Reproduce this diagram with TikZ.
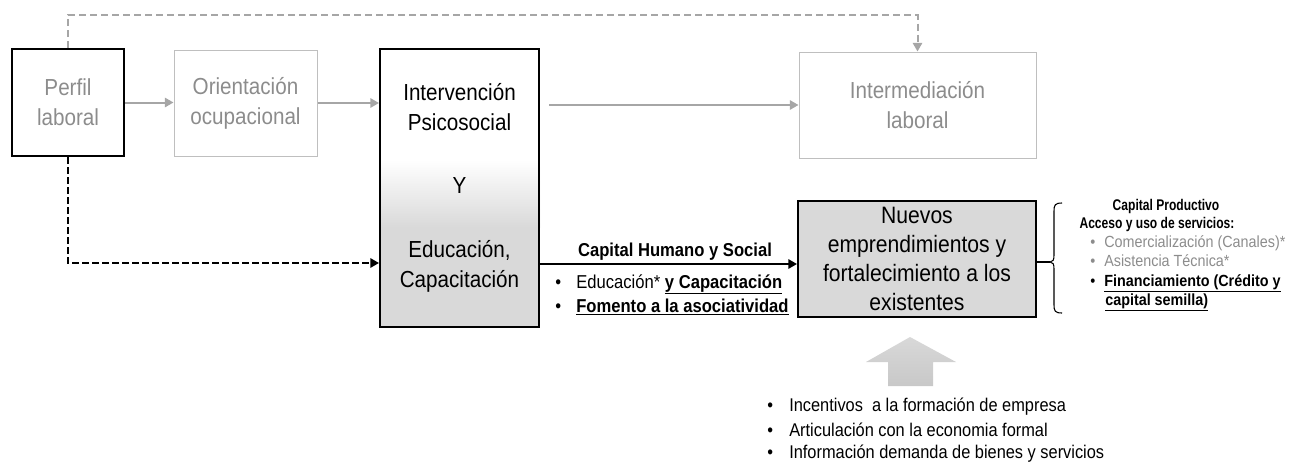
\documentclass[tikz,border=0pt]{standalone}
\usepackage{fontspec}
\setmainfont{Liberation Sans}[FakeStretch=0.89]
\newfontfamily\headfamily{Liberation Sans}[FakeStretch=0.78]
\usetikzlibrary{arrows.meta,calc,backgrounds}

\definecolor{txtgray}{HTML}{8C8C8C}
\definecolor{linegray}{HTML}{A6A6A6}
\definecolor{boxgray}{HTML}{BFBFBF}
\definecolor{fillgray}{HTML}{D9D9D9}
\definecolor{upgray}{HTML}{C8C8C8}

\newcommand{\bigfont}{\fontsize{17.4}{22.5}\selectfont}
\newcommand{\midfont}{\fontsize{17.8}{21.75}\selectfont}
\newcommand{\smallfont}{\fontsize{14}{18}\selectfont}
\newcommand{\lowfont}{\fontsize{13.8}{18}\selectfont}
\newcommand{\sidefont}{\fontsize{12.1}{14.5}\selectfont}
\newcommand{\headfont}{\headfamily\fontsize{11.6}{14.5}\selectfont}
\newcommand{\bitem}[2]{\makebox[#1][l]{\textbullet}#2}

\begin{document}
\begin{tikzpicture}[x=0.75pt, y=-0.75pt, >={Triangle[length=6.5pt,width=7pt]},
    darkbox/.style={draw=black, line width=1.5pt, align=center, inner sep=0pt},
    lightbox/.style={draw=boxgray, line width=0.75pt, text=txtgray, align=center, inner sep=0pt},
    grayflow/.style={draw=linegray, line width=1.5pt, ->, color=linegray},
    graydash/.style={grayflow, dash pattern=on 5.25pt off 3pt},
    blackflow/.style={draw=black, line width=1.5pt, ->},
    blackdash/.style={blackflow, dash pattern=on 5.25pt off 2.25pt},
    item/.style={anchor=base west, inner sep=0pt},
    head/.style={anchor=base, inner sep=0pt}]

    %% Background
    \useasboundingbox (0,0) rectangle (1302,461);

    % Boxes
    \node[darkbox, text=txtgray, font=\bigfont, minimum width=84pt, minimum height=80.25pt]
        (perfil) at (68,102.5) {Perfil\\laboral};
    \node[lightbox, font=\bigfont, minimum width=107.25pt, minimum height=79.5pt]
        (orient) at (245.5,103) {Orientación\\ocupacional};
    \node[darkbox, font=\bigfont, minimum width=119.25pt, minimum height=208.5pt]
        (interv) at (459.5,188) {Intervención\\Psicosocial\\[24.75pt]Y\\[25.5pt]Educación,\\Capacitación};
    \node[lightbox, font=\bigfont, minimum width=177.75pt, minimum height=79.5pt]
        (interm) at (917.5,105) {Intermediación\\laboral};
    \node[darkbox, fill=fillgray, font=\midfont, minimum width=178.5pt, minimum height=87pt]
        (nuevos) at (917,259) {Nuevos\\emprendimientos y\\fortalecimiento a los\\existentes};

    % Shading of the middle box
    \begin{scope}[on background layer]
    \shade[top color=white, bottom color=fillgray]
        ($(interv.north west)!0.4!(interv.south west)$) rectangle ($(interv.north east)!0.64!(interv.south east)$);
    \fill[fillgray]
        ($(interv.north west)!0.64!(interv.south west)$) rectangle (interv.south east);
    \end{scope}

    % Flows
    \coordinate (topline) at (0,15);
    \coordinate (dashrow) at (0,263);
    \coordinate (caprow) at (0,264);
    \draw[grayflow] (perfil.east) -- (perfil.east -| orient.west);
    \draw[grayflow] (orient.east) -- (orient.east -| interv.west);
    \draw[grayflow, shorten <=6.75pt] (interm.west -| interv.east) -- (interm.west);
    \draw[graydash] (perfil.north) -- (perfil.north |- topline) -- (interm.north |- topline) -- (interm.north);
    \draw[blackdash] (perfil.south) |- (dashrow -| interv.west);
    \draw[blackflow] (caprow -| interv.east) -- (caprow -| nuevos.west);

    % Capital humano
    \node[font=\smallfont\bfseries] (capital) at (675,252) {Capital Humano y Social};
    \node[item, font=\smallfont] (edu) at (555,288)
        {\bitem{15.75pt}{Educación* \textbf{\underline{y Capacitación}}}};
    \node[item, font=\smallfont] (fom) at (555,312)
        {\bitem{15.75pt}{\textbf{\underline{Fomento a la asociatividad}}}};

    % Brace
    \coordinate (bracemid) at (1050,262);
    \draw[line width=0.8pt] (nuevos.east |- bracemid) -- (bracemid);
    \draw[line width=0.8pt] (1062,203) .. controls (1055,203) and (1054,205) .. (1054,211)
        -- (1054,255) .. controls (1054,260) and (1053,262) .. (bracemid)
        .. controls (1053,262) and (1054,264) .. (1054,269)
        -- (1054,305) .. controls (1054,311) and (1055,313) .. (1062,313);

    % Capital productivo
    \node[head, font=\headfont\bfseries] (prod) at (1166,210) {Capital Productivo};
    \node[head, font=\headfont\bfseries] (acceso) at (1157,228) {Acceso y uso de servicios:};
    \node[item, font=\sidefont, text=txtgray] (comer) at (1090,247)
        {\bitem{10.5pt}{Comercialización (Canales)*}};
    \node[item, font=\sidefont, text=txtgray] (asist) at (1090,266)
        {\bitem{10.5pt}{Asistencia Técnica*}};
    \node[item, font=\sidefont] (finan) at (1090,286)
        {\bitem{10.5pt}{\textbf{\underline{Financiamiento (Crédito y}}}};
    \node[item, font=\sidefont] (semilla) at (1105,305)
        {\textbf{\underline{capital semilla)}}};

    % Up arrow
    \shade[top color=upgray!70, bottom color=upgray] (910,337) -- (956,362) -- (933,362)
        -- (933,386) -- (888,386) -- (888,362) -- (866,362) -- cycle;

    % Incentivos
    \node[item, font=\lowfont] (incent) at (767,411)
        {\bitem{16.5pt}{Incentivos\ \ a la formación de empresa}};
    \node[item, font=\lowfont] (artic) at (767,436)
        {\bitem{16.5pt}{Articulación con la economia formal}};
    \node[item, font=\lowfont] (info) at (767,458)
        {\bitem{16.5pt}{Información demanda de bienes y servicios}};

\end{tikzpicture}
\end{document}
